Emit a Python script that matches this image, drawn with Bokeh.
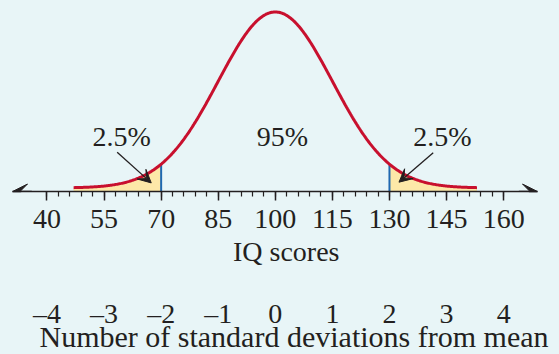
import numpy as np
from bokeh.plotting import figure
from bokeh.models import (Range1d, FixedTicker, LinearAxis, Label, Arrow, VeeHead, Title)
from bokeh.embed import file_html
from bokeh.resources import INLINE

# ---- data ----
MEAN = 100
SD = 15
IQ_TICKS = [40, 55, 70, 85, 100, 115, 130, 145, 160]
IQ_MINOR = list(range(40, 161, 3))
SD_LABELS = ["\u20134", "\u20133", "\u20132", "\u20131", "0", "1", "2", "3", "4"]
CURVE_START, CURVE_END = 47, 153
LOWER_CUT, UPPER_CUT = 70, 130
TAIL_TEXT = "2.5%"
MIDDLE_TEXT = "95%"
X_TITLE = "IQ scores"
SD_TITLE = "Number of standard deviations from mean"

BG = "#e8f5f7"
INK = "#231f20"
RED = "#c8102e"
BLUE = "#1f68b0"
FILL = "#fde8a8"
FONT = "Liberation Serif"

Y0 = -0.02  # axis line level (slightly below zero density)
PX_PER_UNIT = 176


def density(x):
    z = (np.asarray(x, dtype=float) - MEAN) / SD
    return np.exp(-0.5 * z * z)


p = figure(width=559, height=354, output_backend="svg", toolbar_location=None,
           x_range=Range1d(30.94, 168.9), y_range=Range1d(Y0, Y0 + 191 / PX_PER_UNIT),
           y_axis_location=None, x_axis_location="below")
p.min_border_left = 12
p.min_border_right = 22
p.min_border_top = 0
p.min_border_bottom = 163
p.background_fill_color = BG
p.border_fill_color = BG
p.outline_line_color = None
p.xgrid.grid_line_color = None
p.ygrid.grid_line_color = None

# shaded tails
xl = np.linspace(CURVE_START, LOWER_CUT, 60)
xr = np.linspace(UPPER_CUT, CURVE_END, 60)
p.varea(x=xl, y1=Y0, y2=density(xl), fill_color=FILL)
p.varea(x=xr, y1=Y0, y2=density(xr), fill_color=FILL)

# cut lines
p.segment(x0=[LOWER_CUT, UPPER_CUT], y0=[Y0, Y0], x1=[LOWER_CUT, UPPER_CUT],
          y1=list(density([LOWER_CUT, UPPER_CUT])), line_color=BLUE, line_width=2)

# curve
xs = np.linspace(CURVE_START, CURVE_END, 400)
p.line(xs, density(xs), line_color=RED, line_width=3)

# IQ axis
ax = p.xaxis[0]
ax.ticker = FixedTicker(ticks=IQ_TICKS, minor_ticks=IQ_MINOR)
ax.axis_line_color = INK
ax.axis_line_width = 1.5
ax.major_tick_line_color = INK
ax.major_tick_line_width = 1.5
ax.minor_tick_line_color = INK
ax.minor_tick_line_width = 1.2
ax.major_tick_in = 0
ax.major_tick_out = 9
ax.minor_tick_in = 0
ax.minor_tick_out = 5
ax.major_label_standoff = 9
ax.major_label_text_font = FONT
ax.major_label_text_font_size = "28px"
ax.major_label_text_color = INK

# IQ axis title
t1 = Title(text=X_TITLE, align="left", offset=220.5, standoff=8, vertical_align="middle",
           text_font=FONT, text_font_size="28px", text_font_style="normal", text_color=INK)
p.add_layout(t1, "below")

# SD axis
ax2 = LinearAxis(ticker=FixedTicker(ticks=IQ_TICKS),
                 major_label_overrides={t: s for t, s in zip(IQ_TICKS, SD_LABELS)})
ax2.axis_line_color = None
ax2.major_tick_line_color = None
ax2.minor_tick_line_color = None
ax2.major_tick_out = 0
ax2.major_tick_in = 0
ax2.major_label_standoff = 26
ax2.major_label_text_font = FONT
ax2.major_label_text_font_size = "28px"
ax2.major_label_text_color = INK
p.add_layout(ax2, "below")

# SD axis title
t2 = Title(text=SD_TITLE, align="left", offset=27, standoff=-26, vertical_align="middle",
           text_font=FONT, text_font_size="30px", text_font_style="normal", text_color=INK)
p.add_layout(t2, "below")

# axis arrowheads
p.add_layout(Arrow(end=VeeHead(size=15, fill_color=INK, line_color=INK),
                   x_start=36, y_start=Y0, x_end=30.94, y_end=Y0,
                   line_color=INK, line_width=1.5))
p.add_layout(Arrow(end=VeeHead(size=15, fill_color=INK, line_color=INK),
                   x_start=164, y_start=Y0, x_end=168.9, y_end=Y0,
                   line_color=INK, line_width=1.5))

# percentage labels
for x, y, t in [(59.6, 0.29, TAIL_TEXT), (101.9, 0.295, MIDDLE_TEXT), (143.9, 0.29, TAIL_TEXT)]:
    p.add_layout(Label(x=x, y=y, text=t, text_align="center", text_baseline="middle",
                       text_font=FONT, text_font_size="28px", text_color=INK))

# pointer arrows
p.add_layout(Arrow(end=VeeHead(size=13, fill_color=INK, line_color=INK),
                   x_start=58.45, y_start=0.203, x_end=67.4, y_end=0.029,
                   line_color=INK, line_width=1.3))
p.add_layout(Arrow(end=VeeHead(size=13, fill_color=INK, line_color=INK),
                   x_start=141.5, y_start=0.200, x_end=132.5, y_end=0.033,
                   line_color=INK, line_width=1.3))

html = file_html(p, INLINE)
html = html.replace("</head>", "<style>html,body{background-color:%s;}</style></head>" % BG, 1)
open("out.html", "w").write(html)
